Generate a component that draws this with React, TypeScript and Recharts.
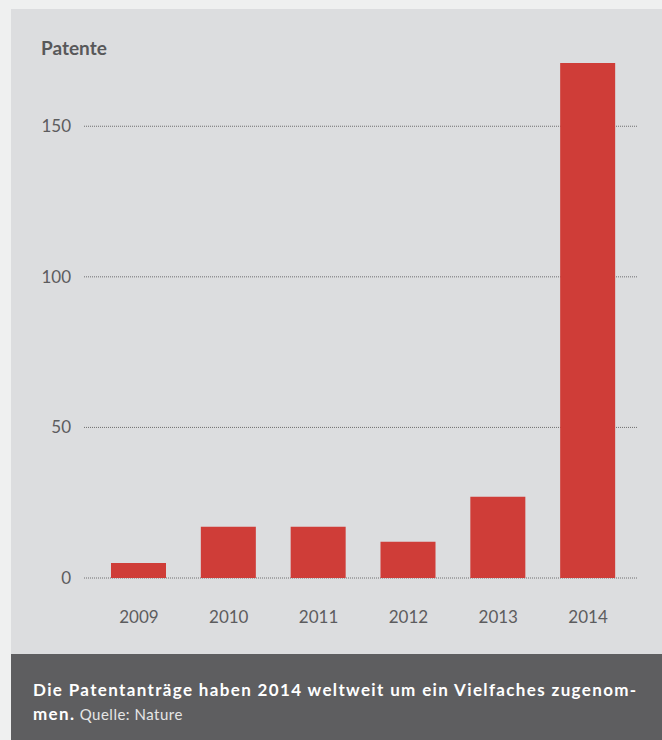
import { BarChart, Bar, XAxis, YAxis, CartesianGrid } from 'recharts';

const YEARS = ["2009", "2010", "2011", "2012", "2013", "2014"];
const PATENTS = [5, 17, 17, 12, 27, 171];
const Y_TICKS = [0, 50, 100, 150];

const rows = YEARS.map((year, i) => ({ year, patents: PATENTS[i] }));

const FONT = "Lato, 'Open Sans', sans-serif";

export default function App() {
    return (
        <div style={{ position: "absolute", left: 0, top: 0, width: 662, height: 740, background: "#eff0f0", fontFamily: FONT, overflow: "hidden" }}>
            {/* chart panel */}
            <div style={{ position: "absolute", left: 11, top: 9, width: 651, height: 645, background: "#dcdddf" }}>
                <div style={{ position: "absolute", left: 30, top: 27, fontSize: 19, fontWeight: 700, color: "#58585a" }}>
                    Patente
                </div>
                <BarChart
                    width={651}
                    height={645}
                    data={rows}
                    margin={{ top: 54, right: 24, bottom: 16, left: 0 }}
                    barSize={55}
                >
                    <CartesianGrid vertical={false} horizontalValues={Y_TICKS} stroke="#6e6e70" strokeDasharray="1 1" />
                    <XAxis
                        dataKey="year"
                        axisLine={false}
                        tickLine={false}
                        height={60}
                        tickSize={0}
                        tickMargin={33}
                        padding={{ left: 10, right: 5 }}
                        tick={{ fill: "#5c5c5e", fontSize: 17, fontFamily: FONT }}
                    />
                    <YAxis
                        domain={[0, 'dataMax']}
                        ticks={Y_TICKS}
                        axisLine={false}
                        tickLine={false}
                        width={73}
                        tickSize={0}
                        tickMargin={13}
                        tick={{ fill: "#5c5c5e", fontSize: 17, fontFamily: FONT }}
                    />
                    <Bar dataKey="patents" fill="#cf3d38" isAnimationActive={false} />
                </BarChart>
            </div>

            {/* caption */}
            <div style={{ position: "absolute", left: 11, top: 654, width: 651, height: 86, background: "#5e5e60" }}>
                <div style={{ position: "absolute", left: 22, top: 24, width: 625, fontSize: 17, lineHeight: "24px", color: "#ffffff", letterSpacing: 1.35, whiteSpace: "nowrap" }}>
                    <span style={{ fontWeight: 700 }}>Die Patentanträge haben 2014 weltweit um ein Vielfaches zugenom-</span>
                    <br />
                    <span style={{ fontWeight: 700 }}>men.</span>
                    <span style={{ fontSize: 15, color: "#e6e6e6", letterSpacing: 0.5 }}> Quelle: Nature</span>
                </div>
            </div>
        </div>
    );
}
